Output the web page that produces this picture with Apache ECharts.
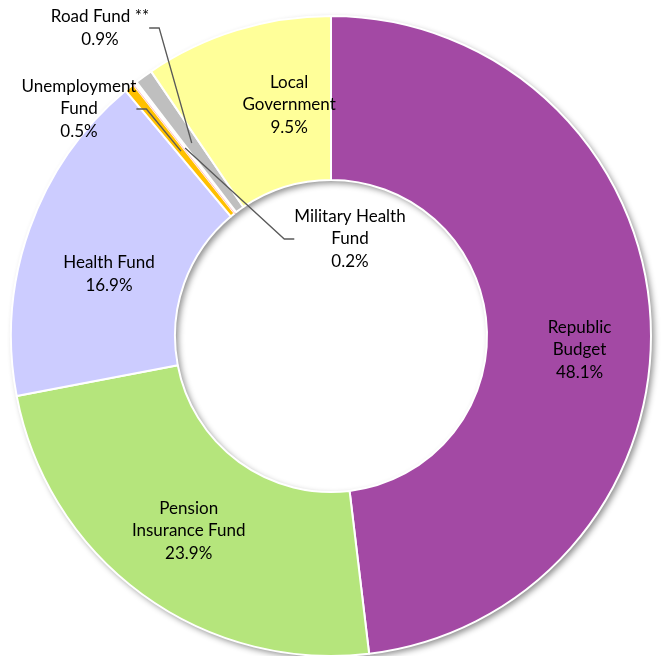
<!DOCTYPE html>
<html><head><meta charset="utf-8">
<script src="https://cdn.jsdelivr.net/npm/echarts@6/dist/echarts.min.js"></script>
<style>html,body{margin:0;padding:0;background:#fff}#c{width:662px;height:656px}</style>
</head><body><div id="c"></div>
<script>
const categories = ['Republic\nBudget', 'Pension\nInsurance Fund', 'Health Fund', 'Unemployment\nFund', 'Military Health\nFund', 'Road Fund **', 'Local\nGovernment'];
const shares = [48.1, 23.9, 16.9, 0.5, 0.2, 0.9, 9.5];
const colors = ['#A349A4', '#B5E57C', '#CCCCFF', '#FFC000', '#FFFFFF', '#BFBFBF', '#FFFF99'];
const outsideLabels = {3: [79, 109], 4: [350, 239], 5: [100, 28]};
const labelShift = {0: [8, 28], 2: [5, 19], 6: [29, -1]};

const FONT = {color: '#000', fontFamily: 'Lato', fontSize: 17, lineHeight: 22.5, align: 'center'};
const fmt = p => p.name + '\n' + p.value.toFixed(1) + '%';

const chart = echarts.init(document.getElementById('c'));
const ringData = categories.map((n, i) => ({
  name: n, value: shares[i],
  itemStyle: {color: colors[i], borderColor: i === 4 ? '#FF9999' : '#FFFFFF', borderWidth: i === 4 ? 0.6 : 2},
  label: {show: !outsideLabels[i]}
}));
const leaderData = categories.map((n, i) => ({
  name: n, value: shares[i],
  label: {show: !!outsideLabels[i]},
  labelLine: {show: !!outsideLabels[i]}
}));
chart.setOption({
  animation: false,
  series: [{
    type: 'pie', silent: true, z: 1,
    center: [331, 336], radius: [156, 320],
    data: [{value: 1, itemStyle: {color: '#FFFFFF', shadowBlur: 6, shadowOffsetX: 3, shadowOffsetY: 3, shadowColor: 'rgba(0,0,0,0.45)'}}],
    label: {show: false}, labelLine: {show: false}
  }, {
    type: 'pie', z: 2,
    center: [331, 336], radius: [156, 320],
    startAngle: 90, clockwise: true, avoidLabelOverlap: false,
    data: ringData,
    label: Object.assign({position: 'inside', formatter: fmt}, FONT),
    labelLine: {show: false},
    labelLayout: function (p) {
      const s = labelShift[p.dataIndex];
      return s ? {dx: s[0], dy: s[1]} : {};
    }
  }, {
    type: 'pie', z: 3, silent: true,
    center: [331, 336], radius: [0, 238],
    startAngle: 90, clockwise: true, avoidLabelOverlap: false,
    itemStyle: {color: 'rgba(0,0,0,0)'},
    data: leaderData,
    label: Object.assign({position: 'outside', formatter: fmt}, FONT),
    labelLine: {lineStyle: {color: '#595959', width: 1.3}, length: 10, length2: 10},
    labelLayout: function (p) {
      const o = outsideLabels[p.dataIndex];
      return o ? {x: o[0], y: o[1], align: 'center', verticalAlign: 'middle'} : {};
    }
  }]
});
</script></body></html>
